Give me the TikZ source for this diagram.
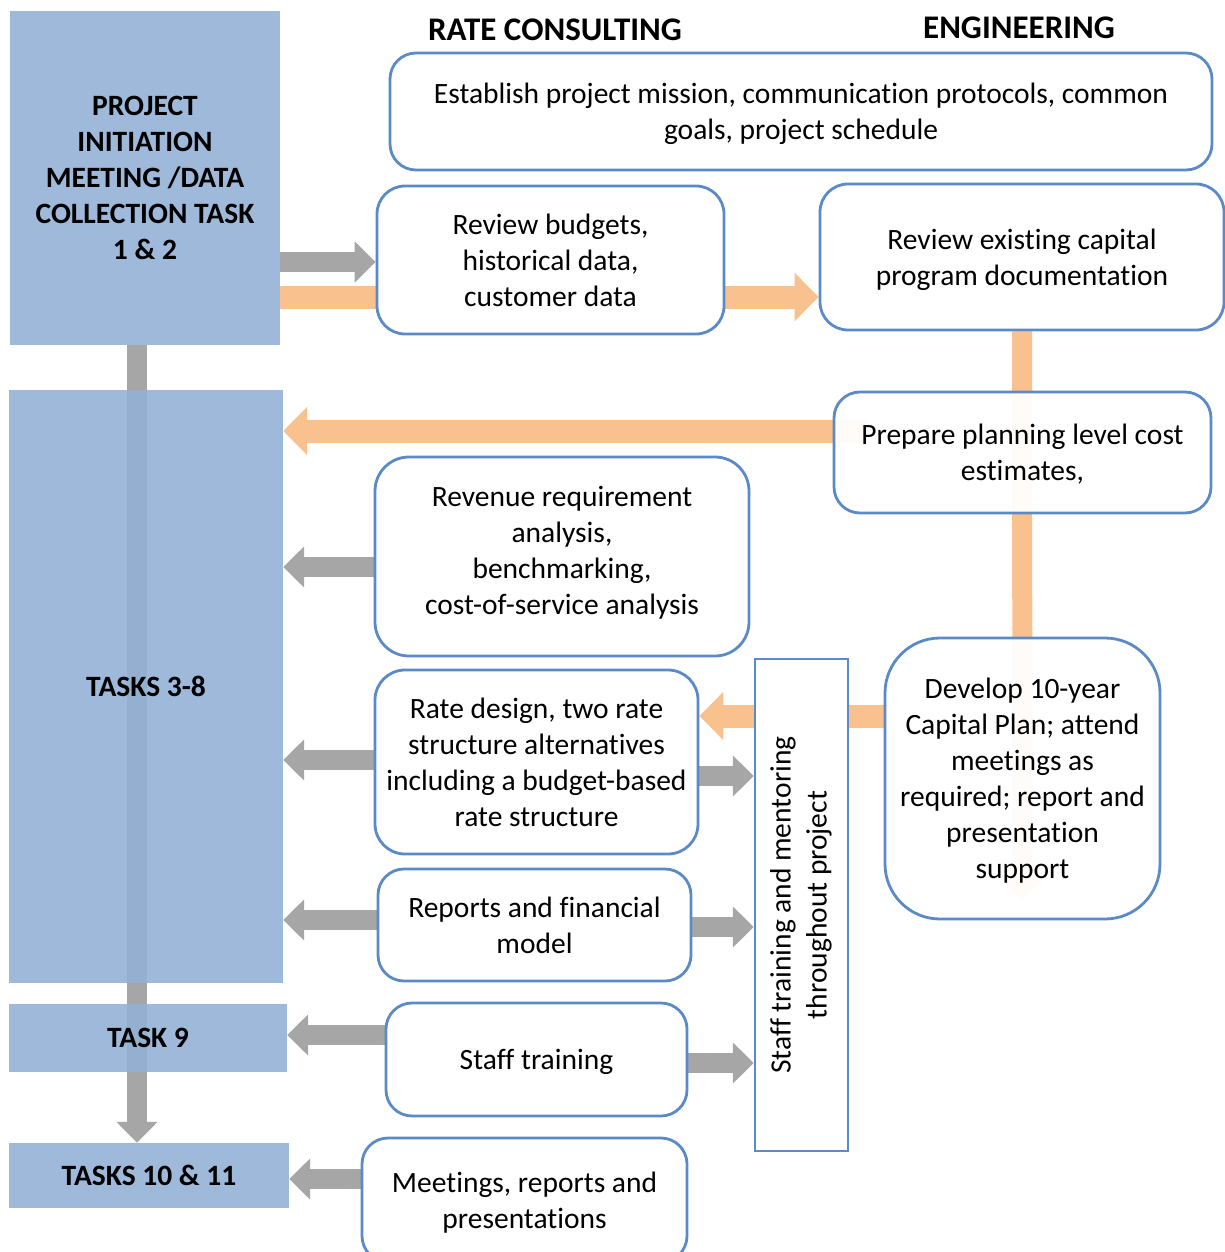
\documentclass[tikz,border=0pt]{standalone}
\usepackage{fontspec}
\setmainfont{Carlito}[Ligatures=NoCommon]
\usetikzlibrary{arrows.meta,backgrounds,calc}

\definecolor{taskblue}{HTML}{94B1D6}
\definecolor{edgeblue}{HTML}{5B8AC6}
\definecolor{flowgray}{HTML}{A6A6A6}
\definecolor{floworange}{HTML}{F9C18E}

\tikzset{
  body/.style={font=\fontsize{29.5}{36}\selectfont, align=center, inner sep=0pt, text depth=0pt},
  taskbox/.style={body, font=\fontsize{29.5}{36}\selectfont\bfseries,
    fill=taskblue, fill opacity=0.9, text opacity=1, draw=none},
  stepbox/.style={body, draw=edgeblue, line width=2.8pt, rounded corners=26pt,
    fill=white, fill opacity=0.94, text opacity=1},
  lanehead/.style={font=\fontsize{33}{36}\selectfont\bfseries, inner sep=0pt},
  grayflow/.style={draw=flowgray, line width=20pt, -{Triangle[length=21pt,width=40pt]}},
  orangeflow/.style={draw=floworange, line width=23pt, -{Triangle[length=24pt,width=47pt]}},
  orangeshaft/.style={draw=floworange, line width=23pt},
}

\begin{document}
\begin{tikzpicture}[x=1pt, y=-1pt]
\useasboundingbox (0,0) rectangle (1225,1252);

% column headings
\node[lanehead] (hrate) at (555,30) {RATE CONSULTING};
\node[lanehead] (heng) at (1019,28) {ENGINEERING};

% task blocks on the left
\node[taskbox, minimum width=270pt, minimum height=334pt] (pi) at (145,178)
  {PROJECT\\INITIATION\\MEETING /DATA\\COLLECTION TASK\\1 \& 2};
\node[taskbox, minimum width=274pt, minimum height=593pt] (t38) at (146,686.5) {TASKS 3-8};
\node[taskbox, minimum width=278pt, minimum height=68pt] (t9) at (148,1038) {TASK 9};
\node[taskbox, minimum width=280pt, minimum height=65pt] (t10) at (149,1175.5) {TASKS 10 \& 11};

% work steps
\node[stepbox, minimum width=822pt, minimum height=117pt] (est) at (801,111.5)
  {Establish project mission, communication protocols, common\\goals, project schedule};
\node[stepbox, rounded corners=28pt, minimum width=347pt, minimum height=148pt] (rb) at (550.5,260)
  {Review budgets,\\historical data,\\customer data};
\node[stepbox, rounded corners=28pt, minimum width=404pt, minimum height=146pt] (rec) at (1022,257)
  {Review existing capital\\program documentation};
\node[stepbox, minimum width=377pt, minimum height=121pt] (pp) at (1022.5,452.5)
  {Prepare planning level cost\\estimates,};
\node[stepbox, text depth=12pt, rounded corners=34pt, minimum width=374pt, minimum height=199pt] (rev) at (562,556.5)
  {Revenue requirement\\analysis,\\benchmarking,\\cost-of-service analysis};
\node[stepbox, rounded corners=30pt, minimum width=323pt, minimum height=184pt] (rd) at (536.5,762)
  {Rate design, two rate\\structure alternatives\\including a budget-based\\rate structure};
\node[stepbox, minimum width=313pt, minimum height=112pt] (rep) at (534.5,925)
  {Reports and financial\\model};
\node[stepbox, minimum width=301pt, minimum height=113pt] (st) at (536.5,1059.5)
  {Staff training};
\node[stepbox, minimum width=325pt, minimum height=124pt] (mt) at (524.5,1200)
  {Meetings, reports and\\presentations};
\node[stepbox, rounded corners=55pt, minimum width=275pt, minimum height=281pt] (dev) at (1022.5,778.5)
  {Develop 10-year\\Capital Plan; attend\\meetings as\\required; report and\\presentation\\support};
\node[body, draw=edgeblue, line width=2.5pt, fill=white, minimum width=93pt, minimum height=492pt]
  (sv) at (801.5,905)
  {\rotatebox{90}{\begin{tabular}{@{}c@{}}Staff training and mentoring\\throughout project\end{tabular}}};

% flows, drawn beneath the boxes
\begin{scope}[on background layer]
  \draw[grayflow] (pi.south -| 137,0) -- (t10.north -| 137,0);
  \draw[grayflow] (pi.east |- 0,262) -- (rb.west |- 0,262);
  \draw[orangeshaft] (pi.east |- 0,297) -- (rb.west |- 0,297);
  \draw[orangeflow] (rb.east |- 0,297) -- (rec.west |- 0,297);
  \draw[orangeflow, line width=20pt] (rec.south) -- ([yshift=21pt]dev.south);
  \draw[orangeflow] ($(pp.west |- 0,431)+(36,0)$) -- (t38.east |- 0,431);
  \draw[grayflow] (rev.west |- 0,567) -- (t38.east |- 0,567);
  \draw[orangeflow] (dev.west |- 0,716) -- (rd.east |- 0,716);
  \draw[grayflow] (rd.west |- 0,760) -- (t38.east |- 0,760);
  \draw[grayflow] (rd.east |- 0,776) -- (sv.west |- 0,776);
  \draw[grayflow] (rep.west |- 0,920) -- (t38.east |- 0,920);
  \draw[grayflow] (rep.east |- 0,927) -- (sv.west |- 0,927);
  \draw[grayflow] (st.west |- 0,1035) -- (t9.east |- 0,1035);
  \draw[grayflow] (st.east |- 0,1063) -- (sv.west |- 0,1063);
  \draw[grayflow] (mt.west |- 0,1179) -- (t10.east |- 0,1179);
\end{scope}
\end{tikzpicture}
\end{document}
